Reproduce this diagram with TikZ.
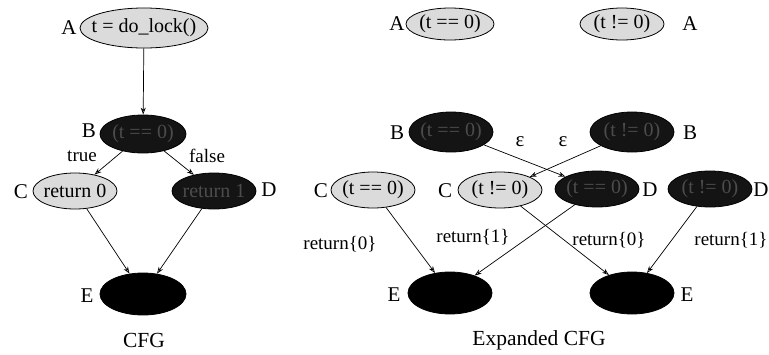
\documentclass[tikz,border=0pt]{standalone}
\usepackage{fontspec}
\setmainfont{Liberation Serif}
\usetikzlibrary{shapes.geometric,arrows.meta}
\begin{document}
\begin{tikzpicture}[x=1pt,y=-1pt,
  ell/.style={ellipse,draw=black,line width=0.8pt,inner sep=0pt,minimum width=84pt,minimum height=36pt,font=\fontsize{20}{22}\selectfont},
  lite/.style={ell,fill=black!14},
  dark/.style={ell,fill=black!92,text=black!70},
  blk/.style={ell,fill=black},
  nlab/.style={font=\fontsize{21}{23}\selectfont,inner sep=0pt},
  elab/.style={font=\fontsize{19}{21}\selectfont,inner sep=0pt},
  captext/.style={font=\fontsize{21.5}{24}\selectfont,inner sep=0pt},
  arr/.style={-{Stealth[length=7pt,width=5pt,open]},line width=0.7pt}
]
\useasboundingbox (0,0) rectangle (769,354);
\newcommand{\ct}[1]{\makebox[0pt]{#1}}
% ---------- CFG ----------
\node[lite,minimum width=128pt,minimum height=40pt] (A) at (144,28) {\ct{t = do\_lock()}};
\node[dark,minimum width=86pt,minimum height=38pt] (B) at (143,134) {\ct{(t == 0)}};
\node[lite] (C) at (75,191) {\ct{return 0}};
\node[dark] (D) at (214,191) {\ct{return 1}};
\node[blk,minimum width=86pt,minimum height=42pt] (E) at (143,294) {};
\node[nlab] (lA) at (69,28) {A};
\node[nlab] (lB) at (89,131) {B};
\node[nlab] (lC) at (21,192) {C};
\node[nlab] (lD) at (269,190) {D};
\node[nlab] (lE) at (87,296) {E};
\draw[arr] (A) -- (B);
\draw[arr] (B) -- (C);
\draw[arr] (B) -- (D);
\draw[arr] (C) -- (E);
\draw[arr] (D) -- (E);
\node[elab] (tt) at (82,156) {true};
\node[elab] (ff) at (207,156) {false};
\node[captext] (cfg) at (144,340) {CFG};
% ---------- Expanded CFG ----------
\node[lite,minimum width=88pt,minimum height=32pt] (A1) at (450,24) {\ct{(t == 0)}};
\node[lite,minimum width=84pt,minimum height=32pt] (A2) at (622,24) {\ct{(t != 0)}};
\node[dark,minimum height=40pt] (B1) at (451,132) {\ct{(t == 0)}};
\node[dark,minimum height=40pt] (B2) at (632,132) {\ct{(t != 0)}};
\node[lite] (C1) at (373,190) {\ct{(t == 0)}};
\node[lite] (C2) at (500,190) {\ct{(t != 0)}};
\node[dark] (D1) at (597,189) {\ct{(t == 0)}};
\node[dark] (D2) at (710,189) {\ct{(t != 0)}};
\node[blk,minimum height=42pt] (E1) at (450,293) {};
\node[blk,minimum height=42pt] (E2) at (632,293) {};
\node[nlab] (lA1) at (397,24) {A};
\node[nlab] (lA2) at (690,24) {A};
\node[nlab] (lB1) at (397,133) {B};
\node[nlab] (lB2) at (690,133) {B};
\node[nlab] (lC1) at (321,191) {C};
\node[nlab] (lC2) at (445,191) {C};
\node[nlab] (lD1) at (650,190) {D};
\node[nlab] (lD2) at (761,190) {D};
\node[nlab] (lE1) at (394,295) {E};
\node[nlab] (lE2) at (687,295) {E};
\draw[arr] (B1) -- (D1);
\draw[arr] (B2) -- (C2);
\node[elab,font=\fontsize{21}{23}\selectfont] (eps1) at (520,142) {ε};
\node[elab,font=\fontsize{21}{23}\selectfont] (eps2) at (563,142) {ε};
\draw[arr] (C1) -- (E1);
\draw[arr] (D1) -- (E1);
\draw[arr] (C2) -- (E2);
\draw[arr] (D2) -- (E2);
\node[elab] (r1) at (340,244) {return\{0\}};
\node[elab] (r2) at (473,237) {return\{1\}};
\node[elab] (r3) at (609,240) {return\{0\}};
\node[elab] (r4) at (731,240) {return\{1\}};
\node[captext] (ecfg) at (539,340) {Expanded CFG};
\end{tikzpicture}
\end{document}
